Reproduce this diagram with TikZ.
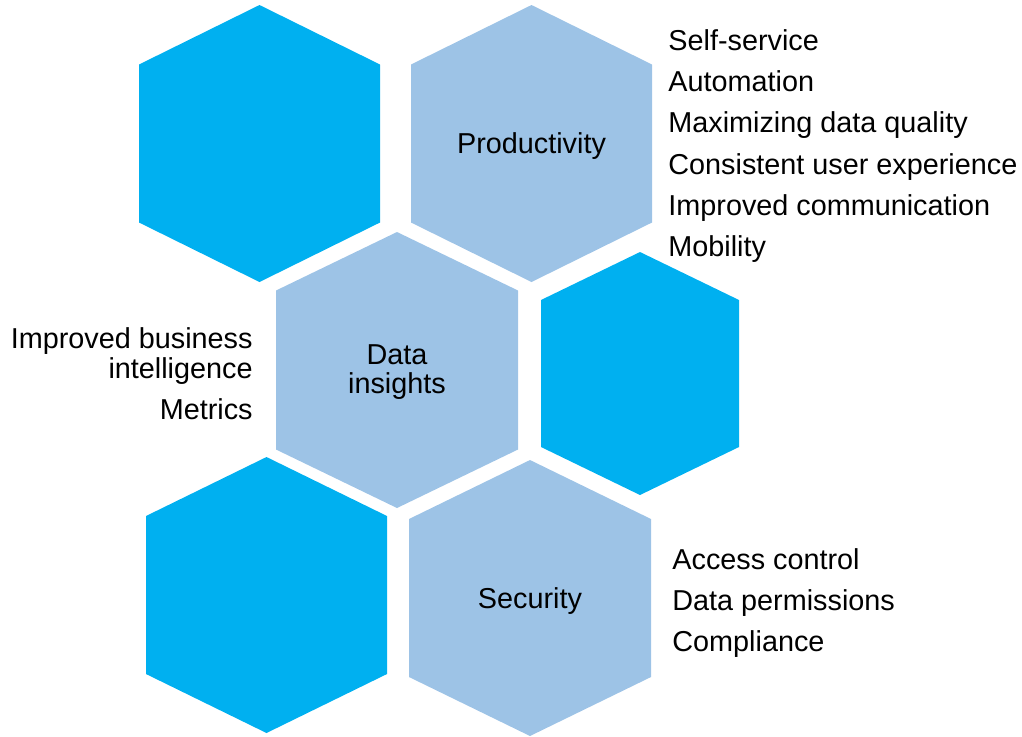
\documentclass[tikz,border=0pt]{standalone}
\usepackage{fontspec}
\setmainfont{Liberation Sans}
\usepackage{xcolor}
\usepackage{tikz}

\definecolor{hexbright}{RGB}{0,176,240}
\definecolor{hexpale}{RGB}{157,195,230}

% hexagon cell: centre x, centre y, half width, half height, shoulder, colour
\newcommand{\hexcell}[6]{%
	\fill[#6] (#1,#2-#4) -- (#1+#3,#2-#5) -- (#1+#3,#2+#5)
		-- (#1,#2+#4) -- (#1-#3,#2+#5) -- (#1-#3,#2-#5) -- cycle;}

\tikzset{
	hexlabel/.style = {inner sep=0pt, font=\fontsize{14.4pt}{14.8pt}\selectfont, align=center},
	itemtext/.style = {inner sep=0pt, font=\fontsize{14.4pt}{20.5pt}\selectfont},
}

\begin{document}
\begin{tikzpicture}[x=0.5pt, y=-0.5pt]
		\useasboundingbox (0,0) rectangle (1022,736);

		% honeycomb
		\hexcell{259.5}{143.5}{120.5}{138.5}{79}{hexbright}
		\hexcell{531.5}{143.5}{120.5}{138.5}{79}{hexpale}
		\hexcell{397}{370}{121}{138}{79.5}{hexpale}
		\hexcell{640}{373.5}{99}{121.5}{73.5}{hexbright}
		\hexcell{266.5}{595}{120.5}{138}{79}{hexbright}
		\hexcell{530}{598}{121}{138}{79}{hexpale}

		% cell titles
		\node[hexlabel, anchor=base] (prod) at (531.5,153) {Productivity};
		\node[hexlabel, anchor=center] (insight) at (397,372) {Data\\insights};
		\node[hexlabel, anchor=base] (secure) at (530,608) {Security};

		% productivity list
		\foreach \txt [count=\i from 0] in {Self-service, Automation,
			Maximizing data quality, Consistent user experience,
			Improved communication, Mobility}
			\node[itemtext, anchor=base west] (prod\i) at (668,50.5+41.2*\i) {\txt};

		% data insights list
		\node[itemtext, anchor=base east] (insightA) at (253,348) {Improved business};
		\node[itemtext, anchor=base east] (insightB) at (253,378) {intelligence};
		\node[itemtext, anchor=base east] (insightC) at (253,419) {Metrics};

		% security list
		\foreach \txt [count=\i from 0] in {Access control, Data permissions, Compliance}
			\node[itemtext, anchor=base west] (secure\i) at (672,569.5+41*\i) {\txt};
	\end{tikzpicture}
\end{document}
